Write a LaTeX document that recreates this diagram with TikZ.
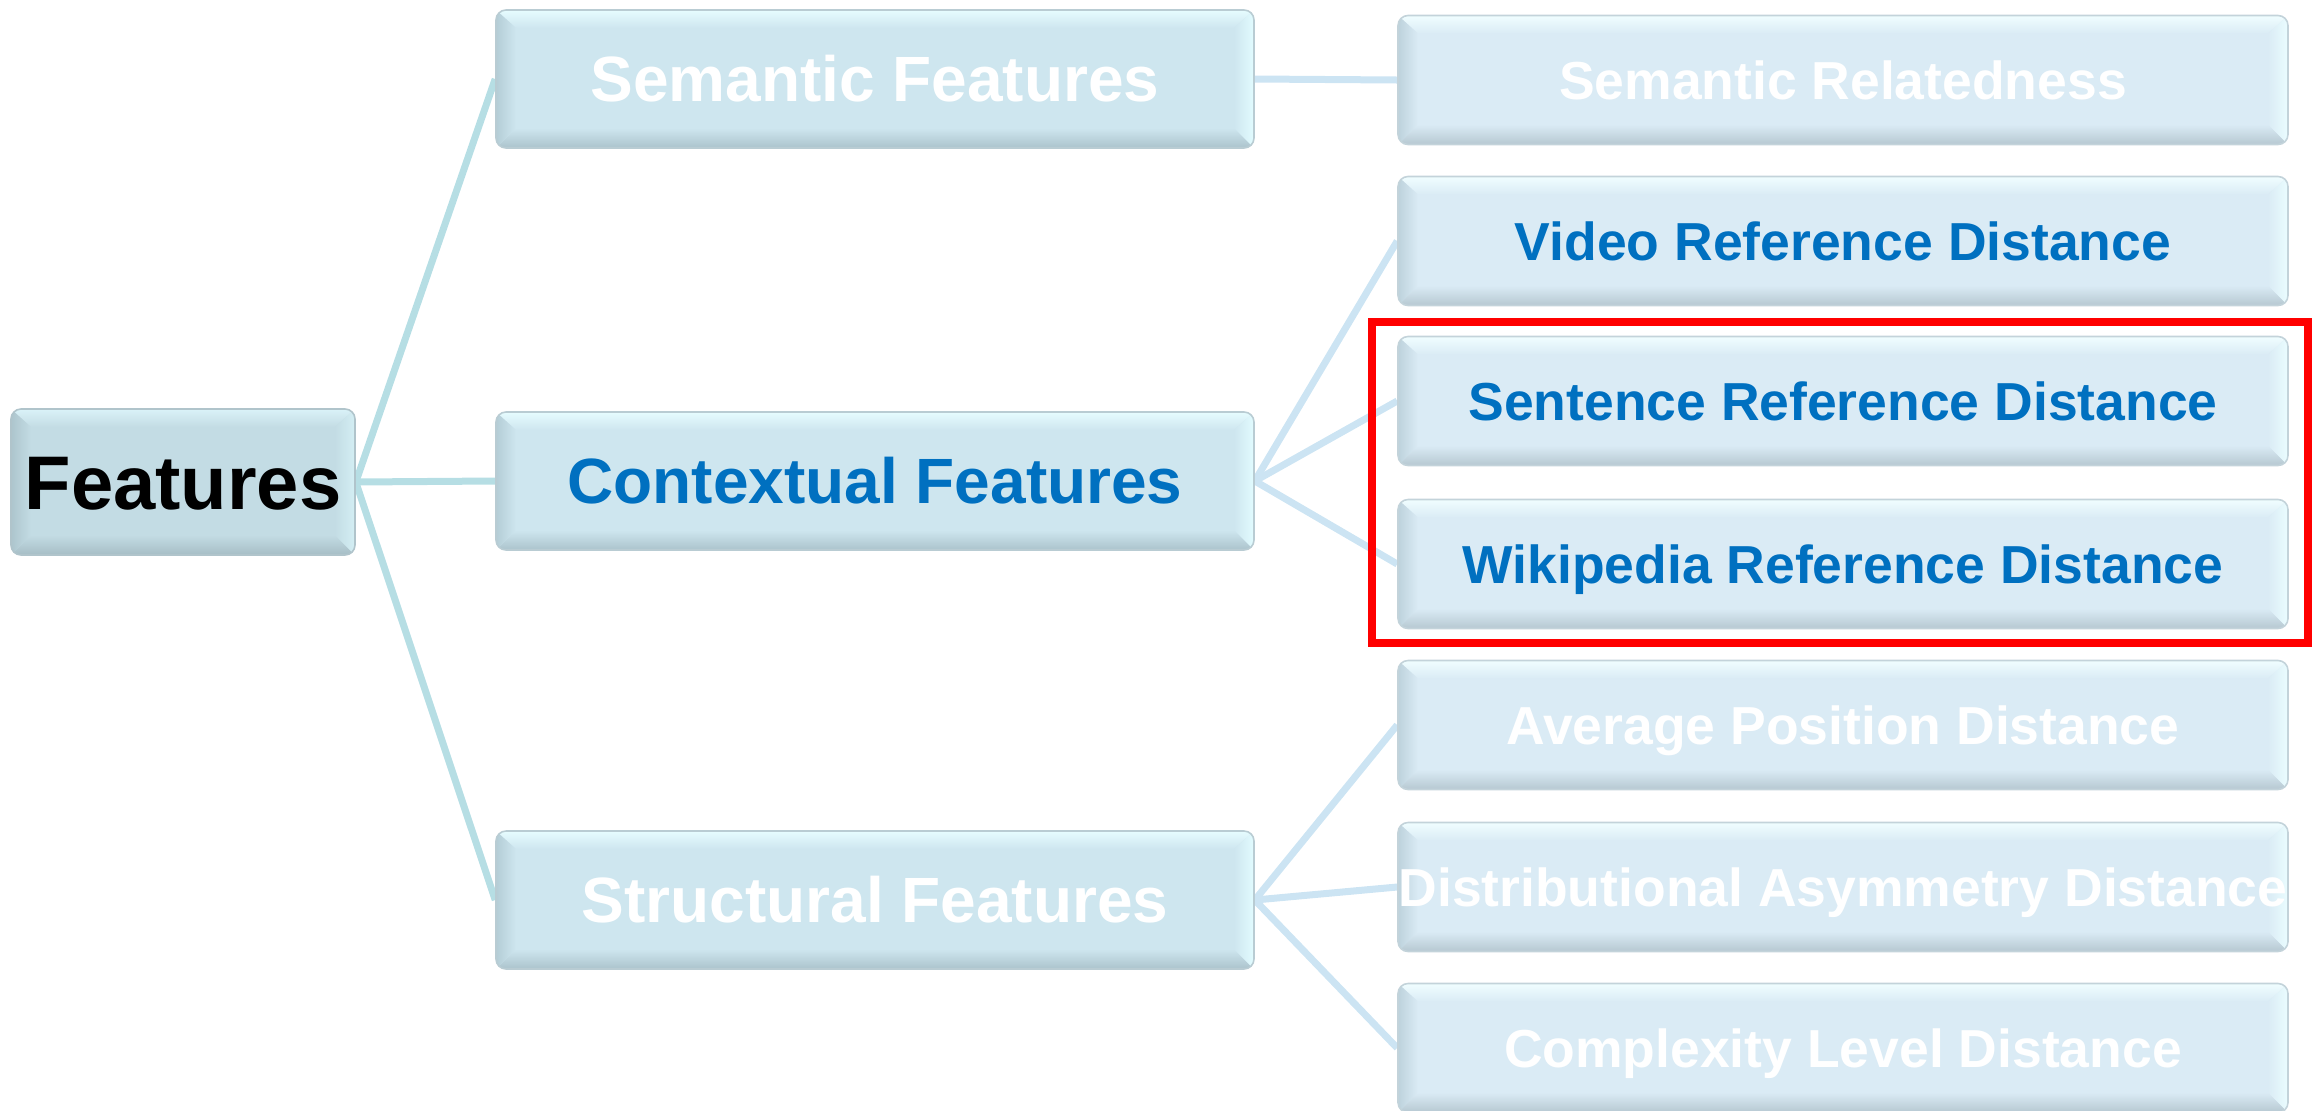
\documentclass[tikz,border=0pt]{standalone}
\usepackage{fontspec}
\setmainfont{Liberation Sans}
\usetikzlibrary{backgrounds}

% box palettes: Base, Top (highlight), Bot (shadow), Left, Right, Edge
\definecolor{leafBase}{HTML}{DAEBF5}
\definecolor{leafTop}{HTML}{F0FDFF}
\definecolor{leafBot}{HTML}{B6C8D1}
\definecolor{leafLeft}{HTML}{BDD2DC}
\definecolor{leafRight}{HTML}{EAFDFF}
\definecolor{leafEdge}{HTML}{C3D3DA}
\definecolor{lvlBase}{HTML}{CEE6EF}
\definecolor{lvlTop}{HTML}{E6FCFF}
\definecolor{lvlBot}{HTML}{ABC3CC}
\definecolor{lvlLeft}{HTML}{B4CDD6}
\definecolor{lvlRight}{HTML}{E2FCFF}
\definecolor{lvlEdge}{HTML}{B9CCD3}
\definecolor{rootBase}{HTML}{C3DCE4}
\definecolor{rootTop}{HTML}{DAF2F8}
\definecolor{rootBot}{HTML}{A6BDC5}
\definecolor{rootLeft}{HTML}{ADC5CD}
\definecolor{rootRight}{HTML}{D4EFF4}
\definecolor{rootEdge}{HTML}{B0C4CB}
\definecolor{textBlue}{HTML}{0070C0}
\definecolor{linkTeal}{HTML}{B6DEE4}
\definecolor{linkBlue}{HTML}{CCE4F3}

\tikzset{
  bevel/.style={
    rounded corners=5pt, fill=#1Base, draw=#1Edge, line width=0.8pt,
    inner sep=0pt, align=center,
    path picture={
      \coordinate (bb-sw) at (path picture bounding box.south west);
      \coordinate (bb-ne) at (path picture bounding box.north east);
      \coordinate (bb-nw) at (bb-sw |- bb-ne);
      \coordinate (bb-se) at (bb-ne |- bb-sw);
      \shade[sharp corners, top color=#1Top, bottom color=#1Base]
        (bb-nw) -- (bb-ne) -- ([shift={(-10pt,-9pt)}]bb-ne)
        -- ([shift={(10pt,-9pt)}]bb-nw) -- cycle;
      \shade[sharp corners, top color=#1Base, bottom color=#1Bot]
        (bb-sw) -- (bb-se) -- ([shift={(-10pt,10pt)}]bb-se)
        -- ([shift={(10pt,10pt)}]bb-sw) -- cycle;
      \shade[sharp corners, left color=#1Left, right color=#1Base]
        (bb-sw) -- (bb-nw) -- ([shift={(10pt,-9pt)}]bb-nw)
        -- ([shift={(10pt,10pt)}]bb-sw) -- cycle;
      \shade[sharp corners, left color=#1Base, right color=#1Right]
        (bb-se) -- (bb-ne) -- ([shift={(-10pt,-9pt)}]bb-ne)
        -- ([shift={(-10pt,10pt)}]bb-se) -- cycle;
    }},
  rootbox/.style={bevel=root, minimum width=172pt, minimum height=73pt,
    font=\fontsize{38pt}{40pt}\selectfont\bfseries,
    text height=27.2pt, text depth=0pt},
  lvlbox/.style={bevel=lvl, minimum width=379pt, minimum height=69pt,
    font=\fontsize{32pt}{34pt}\selectfont\bfseries,
    text height=22.9pt, text depth=0pt},
  leafbox/.style={bevel=leaf, minimum width=445pt, minimum height=64.5pt,
    font=\fontsize{26.75pt}{28pt}\selectfont\bfseries,
    text height=19.15pt, text depth=0pt},
  rootlink/.style={draw=linkTeal, line width=3.5pt},
  link/.style={draw=linkBlue, line width=3.5pt},
  highlight/.style={draw=red, line width=4pt}
}

\begin{document}
\begin{tikzpicture}[x=0.5pt, y=-0.5pt]
  \useasboundingbox (0,0) rectangle (2312,1110);

  % root
  \node[rootbox, text=black] (feat) at (183,482) {Features};

  % feature groups
  \node[lvlbox, text=white]    (sem) at (875,79)  {Semantic Features};
  \node[lvlbox, text=textBlue] (ctx) at (875,481) {Contextual Features};
  \node[lvlbox, text=white]    (str) at (875,900) {Structural Features};

  % individual features
  \node[leafbox, text=white]    (rel)  at (1843,80)   {Semantic Relatedness};
  \node[leafbox, text=textBlue] (vid)  at (1843,241)  {Video Reference Distance};
  \node[leafbox, text=textBlue] (sent) at (1843,401)  {Sentence Reference Distance};
  \node[leafbox, text=textBlue] (wiki) at (1843,564)  {Wikipedia Reference Distance};
  \node[leafbox, text=white]    (avg)  at (1843,725)  {Average Position Distance};
  \node[leafbox, text=white]    (dist) at (1843,887)  {Distributional Asymmetry Distance};
  \node[leafbox, text=white]    (cplx) at (1843,1048) {Complexity Level Distance};

  % frame around the two reference-distance features
  \draw[highlight] (1372,322) rectangle (2308,643);

  % tree links
  \begin{scope}[on background layer]
    \draw[rootlink] (feat.east) -- (sem.west);
    \draw[rootlink] (feat.east) -- (ctx.west);
    \draw[rootlink] (feat.east) -- (str.west);
    \draw[link] (sem.east) -- (rel.west);
    \draw[link] (ctx.east) -- (vid.west);
    \draw[link] (ctx.east) -- (sent.west);
    \draw[link] (ctx.east) -- (wiki.west);
    \draw[link] (str.east) -- (avg.west);
    \draw[link] (str.east) -- (dist.west);
    \draw[link] (str.east) -- (cplx.west);
  \end{scope}
\end{tikzpicture}
\end{document}
